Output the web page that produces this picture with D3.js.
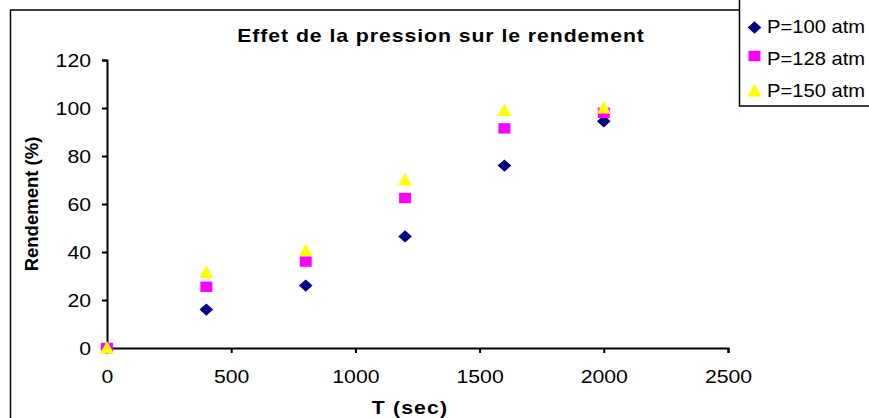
<!DOCTYPE html>
<html><head><meta charset="utf-8">
<script src="https://cdn.jsdelivr.net/npm/d3@7"></script>
<style>body{margin:0;background:#fff}svg{display:block;font-family:"Liberation Sans",Arial,sans-serif}</style>
</head><body>
<svg id="c" width="869" height="418"></svg>
<script>
const times = [0, 400, 800, 1200, 1600, 2000];
const p100 = [0, 16, 26, 46.5, 76, 94.5];
const p128 = [0, 25.5, 36, 62.5, 91.5, 98];
const p150 = [0, 31.5, 40.5, 70, 99, 100];
const seriesNames = ["P=100 atm", "P=128 atm", "P=150 atm"];
const xTicks = [0, 500, 1000, 1500, 2000, 2500];
const yTicks = [0, 20, 40, 60, 80, 100, 120];

const SX = 1.18; // horizontal stretch of the original picture's text
const svg = d3.select("#c");
const x = d3.scaleLinear().domain([0, 2500]).range([107, 728]);
const y = d3.scaleLinear().domain([0, 120]).range([348, 60]);

// outer chart frame
svg.append("path").attr("d", "M10.5,430 L10.5,10 L740,10").attr("fill","none").attr("stroke","#000").attr("stroke-width",1.5);

const fmt = d3.format("d");
const gx = svg.append("g").attr("transform","translate(0,348)")
  .call(d3.axisBottom(x).tickValues(xTicks).tickFormat(fmt).tickSizeOuter(0).tickSize(5));
const gy = svg.append("g").attr("transform","translate(107,0)")
  .call(d3.axisLeft(y).tickValues(yTicks).tickFormat(fmt).tickSizeOuter(0).tickSize(5));
[gx, gy].forEach(g => {
  g.selectAll("path,line").attr("stroke","#000").attr("stroke-width",2);
  g.selectAll("text").attr("font-size","18px").attr("fill","#000").attr("font-family","'Liberation Sans',Arial,sans-serif");
});
gx.selectAll("text").attr("y",35).attr("dy",null).attr("transform",`scale(${SX},1)`);
gy.selectAll("text").attr("x",-16/SX).attr("dy","0.36em").attr("transform",`scale(${SX},1)`);

function stext(px, py, str, opts) {
  const sx = opts.sx || SX;
  const t = svg.append("text").attr("transform",`translate(${px},${py}) scale(${sx},1)`)
    .attr("text-anchor", opts.anchor || "middle").attr("font-size", opts.size + "px").text(str);
  if (opts.bold) t.attr("font-weight","bold");
  if (opts.ls) t.attr("letter-spacing", opts.ls);
  return t;
}
stext(441, 42, "Effet de la pression sur le rendement", {size:18, bold:true, ls:0.8});
stext(410, 414, "T (sec)", {size:18, bold:true, ls:1});
svg.append("text").attr("transform","translate(38,204) rotate(-90)").attr("text-anchor","middle")
  .attr("font-size","18.5px").attr("font-weight","bold").text("Rendement (%)");

const colors = ["#000080", "#FF00FF", "#FFFF00"];
const shapes = [
  "M0,-6.2L6.8,0L0,6.2L-6.8,0Z",
  "M-6,-5.2H6V5.2H-6Z",
  "M0,-7L7,5.5H-7Z"
];
const allSeries = [p100, p128, p150];
allSeries.forEach((vals, i) => {
  svg.append("g").selectAll("path").data(times.map((t,j)=>[t, vals[j]])).join("path")
    .attr("transform", d => `translate(${x(d[0])},${y(d[1])})`)
    .attr("d", shapes[i]).attr("fill", colors[i]);
});

// legend
const lg = svg.append("g");
lg.append("rect").attr("x",739.5).attr("y",-2).attr("width",140).attr("height",108)
  .attr("fill","#fff").attr("stroke","#000").attr("stroke-width",1.5);
const legY = [27.5, 56, 91];
seriesNames.forEach((n,i) => {
  lg.append("path").attr("transform",`translate(754.5,${legY[i]})`)
    .attr("d", shapes[i]).attr("fill", colors[i]);
  stext(767, [33, 64.5, 97][i], n, {size:18, anchor:"start", sx:1.12});
});
</script>
</body></html>
